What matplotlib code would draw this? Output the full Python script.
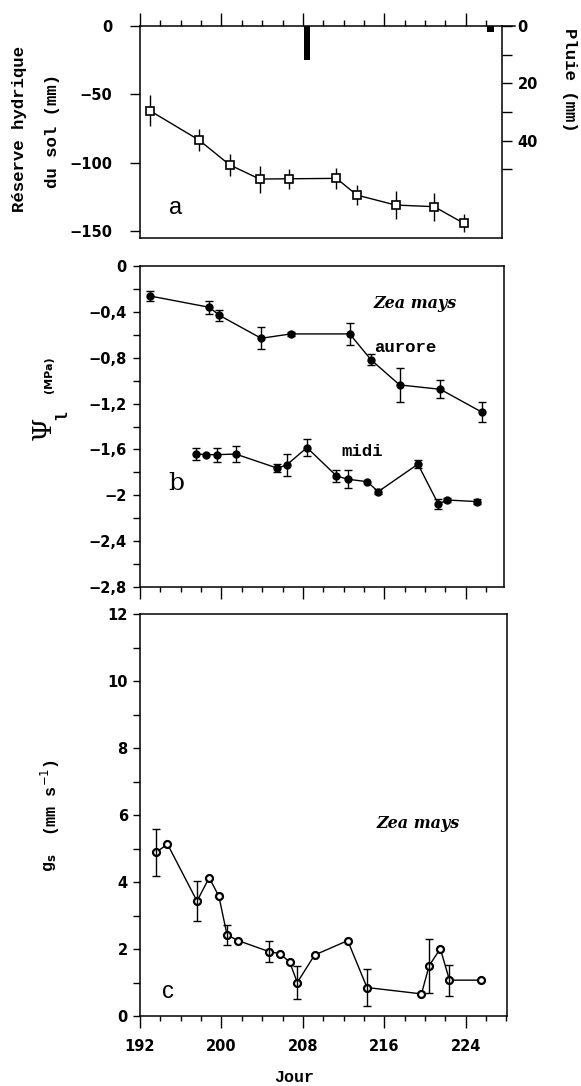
import matplotlib
matplotlib.use('Agg')
import matplotlib.pyplot as plt
from matplotlib.ticker import MultipleLocator, FixedLocator, FixedFormatter
from matplotlib.transforms import IdentityTransform
from matplotlib.font_manager import FontProperties

# ---------------- data ----------------
days_res = [192.95, 197.8, 200.8, 203.75, 206.6, 211.3, 213.3, 217.1, 220.9, 223.8]
reserve = [-61.8, -83.4, -101.5, -111.9, -111.7, -111.4, -123.6, -130.9, -132.1, -144.2]
reserve_err = [11.5, 7.8, 8.0, 9.9, 7.3, 7.9, 7.2, 10.0, 10.3, 6.7]

rain_days = [208.4, 226.4]
rain_mm = [12, 2]

days_aurore = [193.0, 198.8, 199.8, 203.9, 206.8, 212.6, 214.7, 217.5, 221.5, 225.6]
psi_aurore = [-0.264, -0.362, -0.432, -0.632, -0.594, -0.594, -0.82, -1.038, -1.076, -1.276]
err_aurore = [0.043, 0.057, 0.048, 0.094, 0.02, 0.097, 0.048, 0.145, 0.08, 0.087]

days_midi = [197.5, 198.5, 199.6, 201.4, 205.5, 206.4, 208.4, 211.3, 212.4, 214.3,
             215.4, 219.3, 221.3, 222.2, 225.1]
psi_midi = [-1.639, -1.645, -1.645, -1.64, -1.763, -1.735, -1.584, -1.83, -1.859, -1.88,
            -1.967, -1.728, -2.074, -2.04, -2.054]
err_midi = [0.05, 0.0, 0.06, 0.07, 0.035, 0.095, 0.075, 0.055, 0.08, 0.0,
            0.02, 0.035, 0.045, 0.02, 0.02]

days_gs = [193.6, 194.7, 197.6, 198.8, 199.75, 200.55, 201.65, 204.7, 205.75, 206.7,
           207.45, 209.15, 212.4, 214.3, 219.65, 220.4, 221.5, 222.4, 225.5]
gs = [4.89, 5.13, 3.43, 4.13, 3.57, 2.42, 2.25, 1.92, 1.86, 1.61,
      1.00, 1.82, 2.25, 0.85, 0.66, 1.50, 2.01, 1.07, 1.07]
gs_err = [0.70, 0, 0.59, 0, 0, 0.29, 0, 0.32, 0, 0,
          0.48, 0, 0, 0.54, 0, 0.81, 0, 0.46, 0]

x_ticks = [192, 200, 208, 216, 224]
x_ticklabels = ['192', '200', '208', '216', '224']
a_yticks = [0, -50, -100, -150]
a_yticklabels = ['0', '\u221250', '\u2212100', '\u2212150']
rain_ticks = [0, 20, 40]
rain_ticklabels = ['0', '20', '40']
b_yticks = [0, -0.4, -0.8, -1.2, -1.6, -2.0, -2.4, -2.8]
b_yticklabels = ['0', '\u22120,4', '\u22120,8', '\u22121,2', '\u22121,6', '\u22122', '\u22122,4', '\u22122,8']
c_yticks = [0, 2, 4, 6, 8, 10, 12]
c_yticklabels = ['0', '2', '4', '6', '8', '10', '12']

# ---------------- figure ----------------
W, H = 581, 1086
fig = plt.figure(figsize=(W / 100, H / 100), dpi=100)
fig.patch.set_facecolor('white')

PXDAY = 10.18
LEFT = 140


def axes_px(left, top, right, bottom):
    return fig.add_axes([left / W, 1 - bottom / H, (right - left) / W, (bottom - top) / H])


tickfp = FontProperties(family='DejaVu Sans', weight='bold', size=10.5)
mono = dict(family='Liberation Mono', weight='bold')
lw_sp = 1.1
PX = IdentityTransform()

# ----- panel a -----
ra = 502.4
axa = axes_px(LEFT, 26, ra, 238)
axa.set_xlim(192, 192 + (ra - LEFT) / PXDAY)
axa.set_ylim(-155, 0)
axa.errorbar(days_res, reserve, yerr=reserve_err, fmt='-s', color='black', lw=1.0,
             ms=6, mfc='white', mec='black', mew=1.2, elinewidth=1.0, capsize=0)
axa.xaxis.tick_top()
axa.xaxis.set_major_locator(FixedLocator(x_ticks))
axa.xaxis.set_minor_locator(MultipleLocator(2))
axa.tick_params(axis='x', which='major', direction='out', length=9.5, width=1.0,
                top=True, bottom=False, labeltop=False, labelbottom=False)
axa.tick_params(axis='x', which='minor', direction='out', length=4.3, width=1.0,
                top=True, bottom=False)
axa.yaxis.set_major_locator(FixedLocator(a_yticks))
axa.yaxis.set_major_formatter(FixedFormatter(a_yticklabels))
axa.tick_params(axis='y', direction='out', length=7, width=1.0, pad=13, right=False)
for lab in axa.get_yticklabels():
    lab.set_fontproperties(tickfp)
for s in axa.spines.values():
    s.set_linewidth(lw_sp)
axa.spines['right'].set_visible(False)
axa.plot([1.0, 1.035], [1.0, 1.0], transform=axa.transAxes, color='black',
         lw=lw_sp, clip_on=False)
axa.text(176, H - 208, 'a', transform=PX, fontsize=17, family='Liberation Sans',
         ha='center', va='center')

axr = axa.twinx()
axr.set_ylim(74, 0)
axr.bar(rain_days, rain_mm, width=0.65, color='black', bottom=0)
axr.yaxis.set_major_locator(FixedLocator(rain_ticks + [10, 30, 50]))
axr.yaxis.set_major_formatter(FixedFormatter(rain_ticklabels + ['', '', '']))
axr.tick_params(axis='y', direction='out', length=7, width=1.0, pad=4)
for lab in axr.get_yticklabels():
    lab.set_fontproperties(tickfp)
axr.spines['right'].set_linewidth(lw_sp)
for k in ('top', 'left', 'bottom'):
    axr.spines[k].set_visible(False)

fig.text(20 / W, 1 - 129 / H, 'Réserve hydrique', rotation=90, ha='center', va='center',
         fontsize=12.5, **mono)
fig.text(52 / W, 1 - 131 / H, 'du sol (mm)', rotation=90, ha='center', va='center',
         fontsize=12.5, **mono)
fig.text(569 / W, 1 - 80 / H, 'Pluie (mm)', rotation=270, ha='center', va='center',
         fontsize=12.5, **mono)

# ----- panel b -----
rb = 504
axb = axes_px(LEFT, 265.7, rb, 587.3)
axb.set_xlim(192, 192 + (rb - LEFT) / PXDAY)
axb.set_ylim(-2.8, 0)
axb.plot(days_aurore, psi_aurore, '-o', color='black', lw=1.0, ms=5, mfc='black', mec='black')
axb.errorbar(days_aurore, psi_aurore, yerr=err_aurore, fmt='none', ecolor='black',
             elinewidth=1.0, capsize=3, capthick=1.0)
axb.plot(days_midi, psi_midi, '-o', color='black', lw=1.0, ms=5, mfc='black', mec='black')
idx = [i for i, e in enumerate(err_midi) if e > 0]
axb.errorbar([days_midi[i] for i in idx], [psi_midi[i] for i in idx],
             yerr=[err_midi[i] for i in idx], fmt='none', ecolor='black',
             elinewidth=1.0, capsize=3, capthick=1.0)
axb.xaxis.set_major_locator(FixedLocator(x_ticks))
axb.xaxis.set_minor_locator(MultipleLocator(2))
axb.tick_params(axis='x', which='major', direction='out', length=8.4, width=1.0,
                labelbottom=False)
axb.tick_params(axis='x', which='minor', direction='out', length=3.6, width=1.0)
axb.yaxis.set_major_locator(FixedLocator(b_yticks))
axb.yaxis.set_major_formatter(FixedFormatter(b_yticklabels))
axb.yaxis.set_minor_locator(MultipleLocator(0.2))
axb.tick_params(axis='y', which='both', direction='out', length=4.8, width=1.0, pad=5)
for lab in axb.get_yticklabels():
    lab.set_fontproperties(tickfp)
for s in axb.spines.values():
    s.set_linewidth(lw_sp)
axb.text(176, H - 483, 'b', transform=PX, fontsize=18, family='DejaVu Serif',
         ha='center', va='center')
axb.text(415, H - 304, 'Zea mays', transform=PX, fontsize=11.5, family='DejaVu Serif',
         style='italic', weight='bold', ha='center', va='center')
axb.text(405, H - 347, 'aurore', transform=PX, fontsize=12.5, ha='center', va='center', **mono)
axb.text(362, H - 451, 'midi', transform=PX, fontsize=12.5, ha='center', va='center', **mono)

fig.text(43 / W, 1 - 428 / H, '\u03a8', rotation=90, ha='center', va='center',
         fontsize=19, family='DejaVu Serif')
fig.text(62 / W, 1 - 415 / H, 'l', rotation=90, ha='center', va='center',
         fontsize=12, **mono)
fig.text(49 / W, 1 - 375 / H, '(MPa)', rotation=90, ha='center', va='center',
         fontsize=8, family='DejaVu Sans', weight='bold')

# ----- panel c -----
rc = 507
axc = axes_px(LEFT, 614, rc, 1016)
axc.set_xlim(192, 192 + (rc - LEFT) / PXDAY)
axc.set_ylim(0, 12)
axc.plot(days_gs, gs, '-o', color='black', lw=1.0, ms=5, mfc='white', mec='black', mew=1.6)
idc = [i for i, e in enumerate(gs_err) if e > 0]
axc.errorbar([days_gs[i] for i in idc], [gs[i] for i in idc],
             yerr=[gs_err[i] for i in idc], fmt='none', ecolor='black',
             elinewidth=1.0, capsize=3, capthick=1.0)
axc.xaxis.set_major_locator(FixedLocator(x_ticks))
axc.xaxis.set_major_formatter(FixedFormatter(x_ticklabels))
axc.xaxis.set_minor_locator(MultipleLocator(2))
axc.tick_params(axis='x', which='major', direction='out', length=8.4, width=1.0, pad=8)
axc.tick_params(axis='x', which='minor', direction='out', length=3.6, width=1.0)
axc.yaxis.set_major_locator(FixedLocator(c_yticks))
axc.yaxis.set_major_formatter(FixedFormatter(c_yticklabels))
axc.yaxis.set_minor_locator(MultipleLocator(1))
axc.tick_params(axis='y', which='both', direction='out', length=4.8, width=1.0, pad=4)
for lab in axc.get_yticklabels() + axc.get_xticklabels():
    lab.set_fontproperties(tickfp)
for s in axc.spines.values():
    s.set_linewidth(lw_sp)
axc.text(168, H - 992, 'c', transform=PX, fontsize=17, family='Liberation Sans',
         ha='center', va='center')
axc.text(418, H - 823, 'Zea mays', transform=PX, fontsize=11.5, family='DejaVu Serif',
         style='italic', weight='bold', ha='center', va='center')

fig.text(50 / W, 1 - 863 / H, r'g$_{\mathbf{s}}$', rotation=90, ha='center', va='center',
         fontsize=12, **mono)
fig.text(50 / W, 1 - 798 / H, r'(mm s$^{-1}$)', rotation=90, ha='center', va='center',
         fontsize=12, **mono)
fig.text(294 / W, 1 - 1078 / H, 'Jour', ha='center', va='center', fontsize=12, **mono)

fig.savefig('out.png', dpi=100, facecolor='white')
